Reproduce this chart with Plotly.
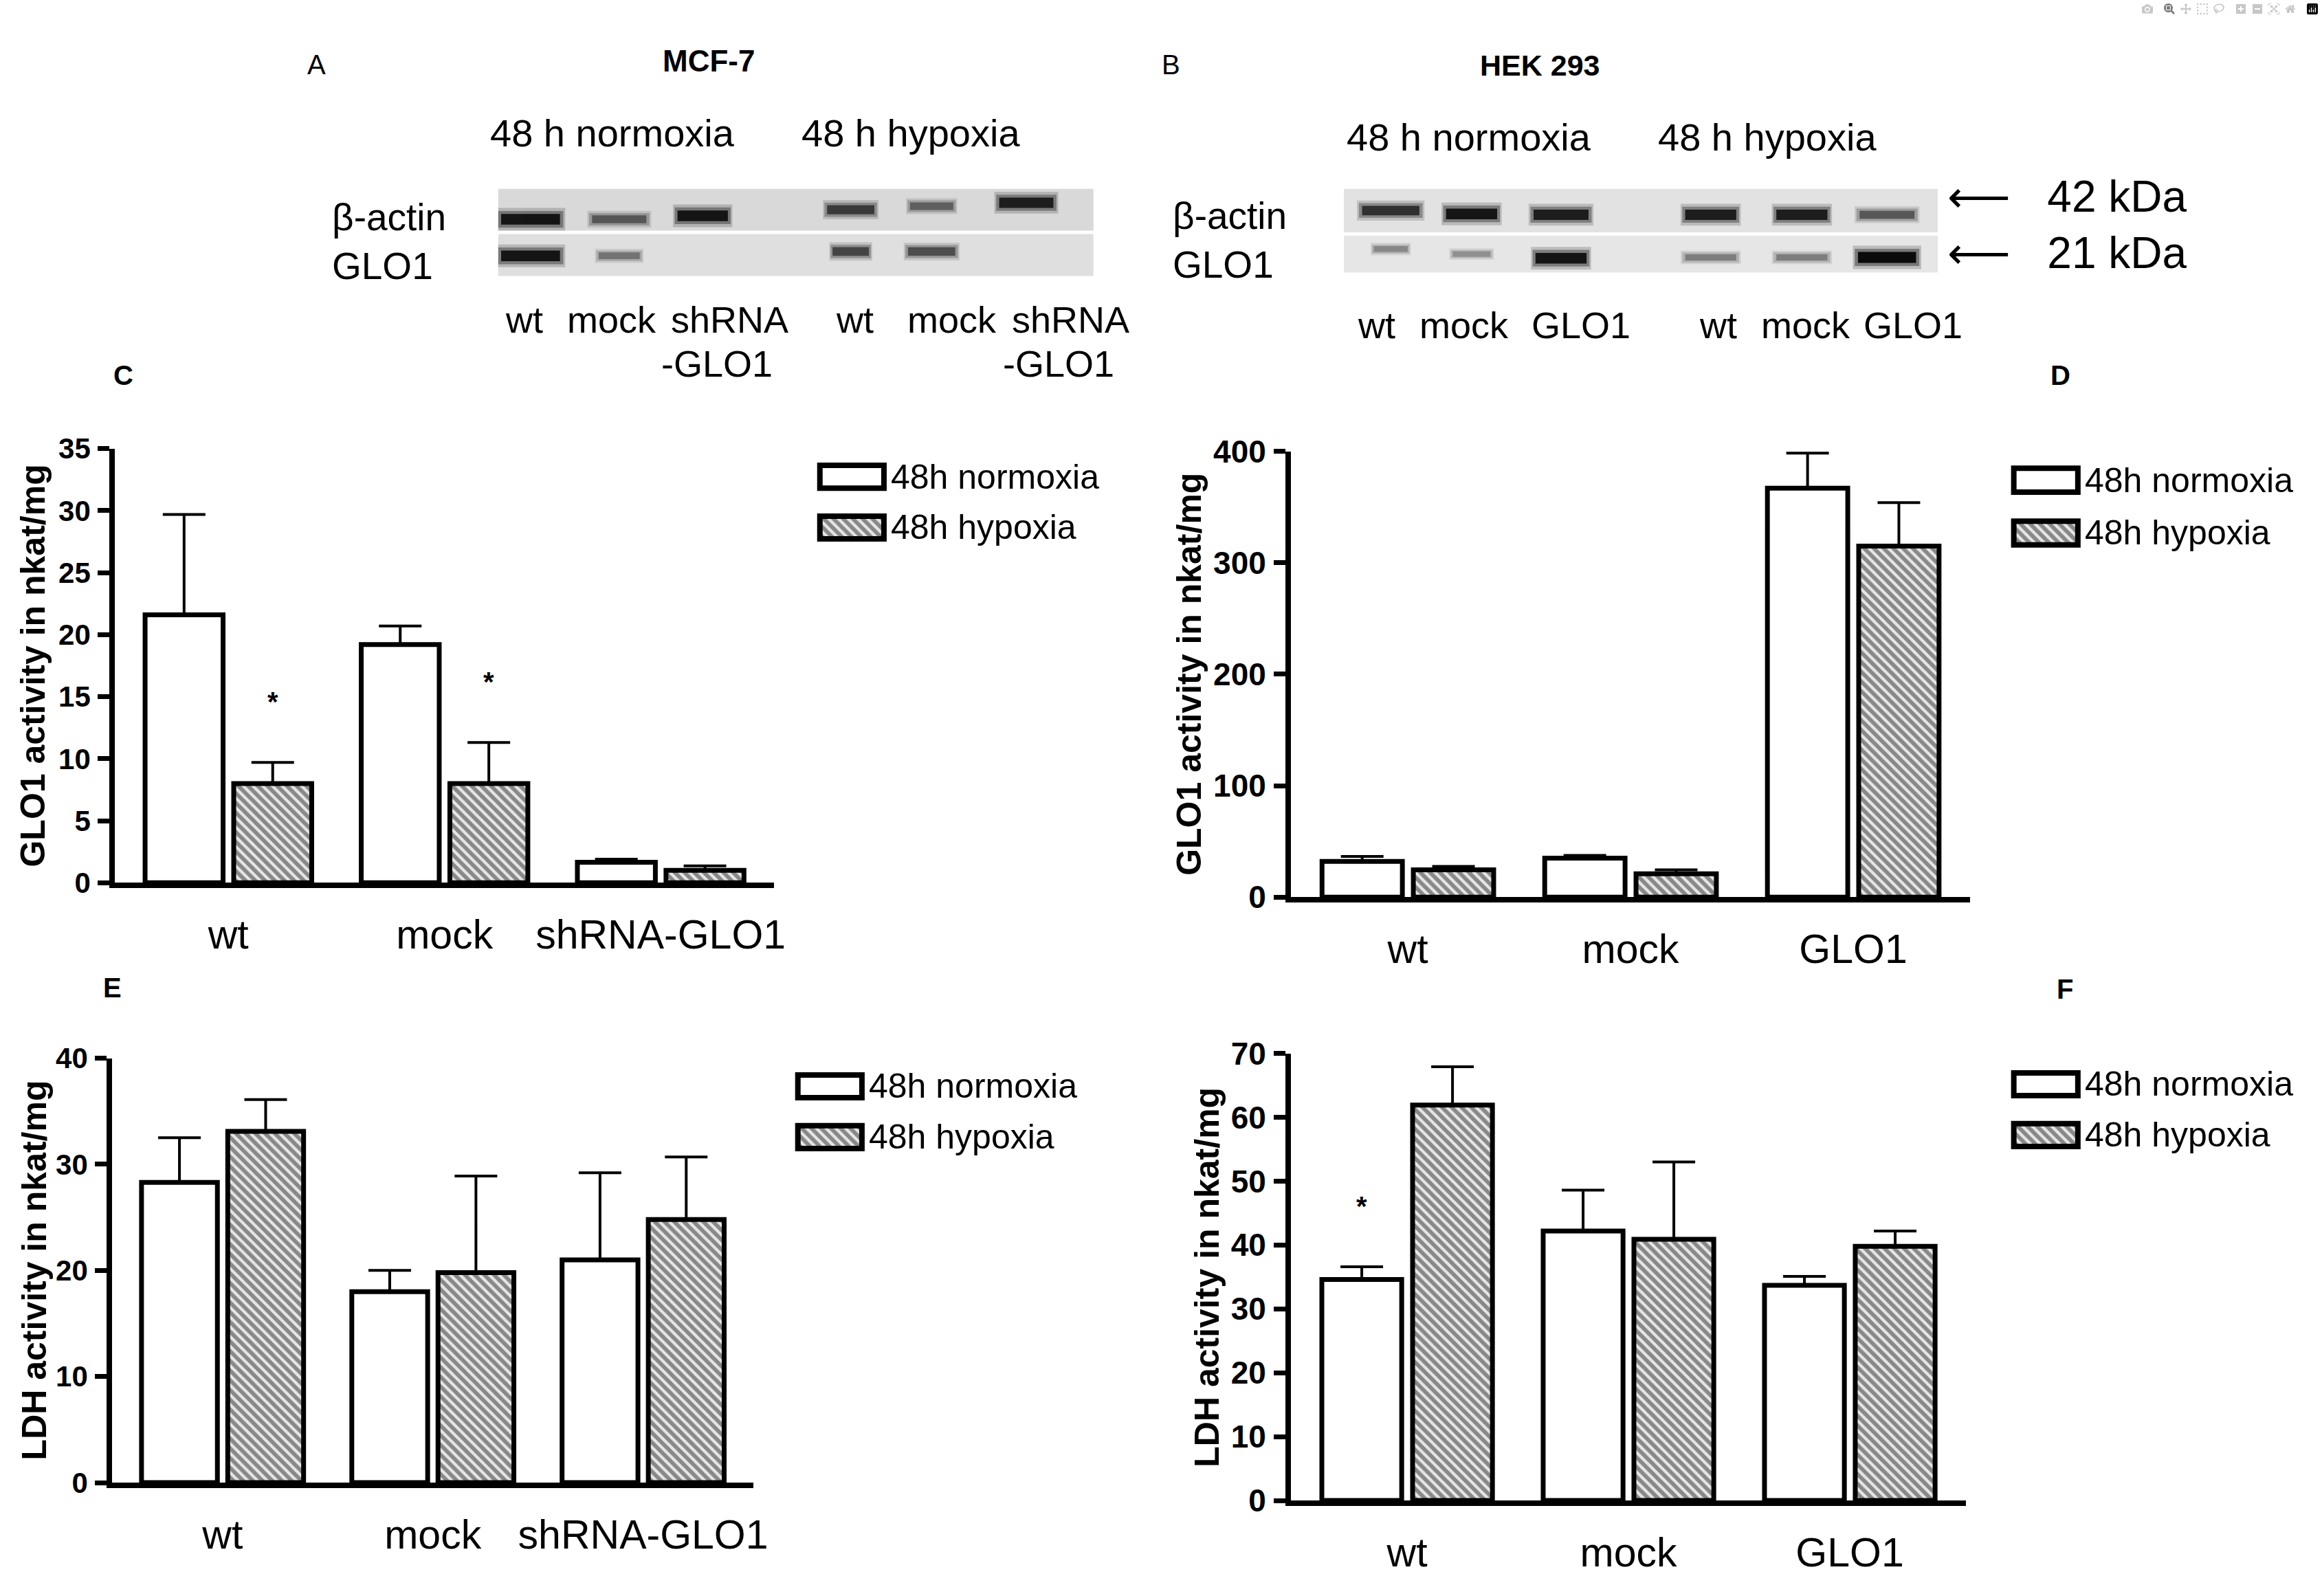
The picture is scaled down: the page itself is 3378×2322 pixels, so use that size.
import plotly.graph_objects as go

W, H = 3378, 2322
FONT = "Liberation Sans, Arial, sans-serif"

# ---------------- data ----------------
mcf7_groups = ["wt", "mock", "shRNA-GLO1"]
hek_groups = ["wt", "mock", "GLO1"]
series_names = ["48h normoxia", "48h hypoxia"]

# C: GLO1 activity MCF-7
glo1_mcf7_norm = [21.6, 19.2, 1.65]
glo1_mcf7_norm_err = [8.1, 1.5, 0.25]
glo1_mcf7_hyp = [8.0, 8.0, 1.0]
glo1_mcf7_hyp_err = [1.7, 3.3, 0.35]
glo1_mcf7_hyp_sig = ["*", "*", ""]
glo1_mcf7_ticks = [0, 5, 10, 15, 20, 25, 30, 35]

# D: GLO1 activity HEK 293
glo1_hek_norm = [32, 35, 367]
glo1_hek_norm_err = [4.5, 2.5, 31.5]
glo1_hek_hyp = [24.5, 21, 315]
glo1_hek_hyp_err = [3, 3.5, 39]
glo1_hek_ticks = [0, 100, 200, 300, 400]

# E: LDH activity MCF-7
ldh_mcf7_norm = [28.3, 18.0, 21.0]
ldh_mcf7_norm_err = [4.2, 2.0, 8.2]
ldh_mcf7_hyp = [33.1, 19.8, 24.8]
ldh_mcf7_hyp_err = [3.0, 9.1, 5.9]
ldh_mcf7_ticks = [0, 10, 20, 30, 40]

# F: LDH activity HEK 293
ldh_hek_norm = [34.6, 42.2, 33.7]
ldh_hek_norm_err = [2.0, 6.4, 1.4]
ldh_hek_hyp = [61.9, 40.9, 39.8]
ldh_hek_hyp_err = [6.0, 12.1, 2.4]
ldh_hek_norm_sig = ["*", "", ""]
ldh_hek_ticks = [0, 10, 20, 30, 40, 50, 60, 70]

# Western blots: lane positions (lane units), band intensities (0-1), band widths (lane units)
blot_rows = ["β-actin", "GLO1"]
size_markers = ["42 kDa", "21 kDa"]
blotA_lane_pos = [0, 1.03, 2.0, 3.72, 4.66, 5.76]
blotA_lane_labels = ["wt", "mock", "shRNA<br>-GLO1", "wt", "mock", "shRNA<br>-GLO1"]
blotA_actin_int = [0.95, 0.6, 0.95, 0.75, 0.55, 0.9]
blotA_actin_w = [0.76, 0.70, 0.65, 0.61, 0.56, 0.70]
blotA_actin_y = [0.65, 0.65, 0.69, 0.76, 0.80, 0.84]
blotA_glo1_int = [0.95, 0.45, 0.0, 0.7, 0.65, 0.0]
blotA_glo1_w = [0.76, 0.53, 0.0, 0.47, 0.61, 0.0]
blotA_glo1_y = [0.23, 0.23, 0.23, 0.28, 0.28, 0.28]

blotB_lane_pos = [0, 0.94, 1.98, 3.72, 4.78, 5.77]
blotB_lane_labels = ["wt", "mock", "GLO1", "wt", "mock", "GLO1"]
blotB_actin_int = [0.8, 0.95, 0.9, 0.9, 0.9, 0.6]
blotB_actin_w = [0.74, 0.66, 0.71, 0.66, 0.66, 0.71]
blotB_actin_y = [0.74, 0.70, 0.69, 0.69, 0.69, 0.69]
blotB_glo1_int = [0.35, 0.3, 0.95, 0.4, 0.4, 1.0]
blotB_glo1_w = [0.44, 0.49, 0.66, 0.66, 0.66, 0.75]
blotB_glo1_y = [0.28, 0.22, 0.17, 0.18, 0.18, 0.18]

# ---------------- helpers ----------------
# page-pixel -> paper fraction (small empirical correction for the screenshot mapping)
def X(px):
    return (px / 0.993) / W


def Y(py):
    return 1 - ((py - 23.7) / 0.98) / H


def dom_x(a, b):
    return [X(a), X(b)]


def dom_y(top, bottom):
    return [Y(bottom), Y(top)]


fig = go.Figure()
layout = dict(
    autosize=True, margin=dict(l=0, r=0, t=0, b=0, pad=0),
    paper_bgcolor="white", plot_bgcolor="white",
    font=dict(family=FONT, color="black"),
    barmode="group", bargap=0.18, bargroupgap=0.12,
    showlegend=False,
)

PAT = dict(shape="\\", fgcolor="#2a2a2a", bgcolor="#e6e6e6", size=10, solidity=0.58)
LINE_W = 7


def bar_panel(idx, cats, norm, norm_err, hyp, hyp_err, ticks, xdom, ydom, ytitle, title_x, tfs):
    ax = "" if idx == 1 else str(idx)
    xa, ya = "x" + ax, "y" + ax
    fig.add_trace(go.Bar(
        x=cats, y=norm, name=series_names[0], xaxis=xa, yaxis=ya,
        marker=dict(color="white", line=dict(color="black", width=LINE_W)),
        error_y=dict(type="data", array=norm_err, arrayminus=[0] * len(norm), symmetric=False,
                     color="black", thickness=4, width=31),
    ))
    fig.add_trace(go.Bar(
        x=cats, y=hyp, name=series_names[1], xaxis=xa, yaxis=ya,
        marker=dict(color="white", pattern=PAT, line=dict(color="black", width=LINE_W)),
        error_y=dict(type="data", array=hyp_err, arrayminus=[0] * len(hyp), symmetric=False,
                     color="black", thickness=4, width=31),
    ))
    layout["xaxis" + ax] = dict(
        domain=xdom, anchor=ya, type="category", range=[-0.525, 2.525],
        showline=True, linewidth=8, linecolor="black", ticks="", showgrid=False,
        zeroline=False, tickfont=dict(size=59, family=FONT), ticklabelstandoff=17,
    )
    layout["yaxis" + ax] = dict(
        domain=ydom, anchor=xa, range=[0, ticks[-1]], tickvals=ticks,
        showline=True, linewidth=8, linecolor="black", ticks="outside", ticklen=17,
        tickwidth=7, tickcolor="black", showgrid=False, zeroline=False,
        tickfont=dict(size=tfs, family=FONT, weight="bold"), ticklabelstandoff=2,
    )
    ymid = (ydom[0] + ydom[1]) / 2
    annotations.append(dict(
        text=ytitle, xref="paper", yref="paper", x=X(title_x), y=ymid, textangle=-90,
        showarrow=False, font=dict(size=50, weight="bold"), xanchor="center", yanchor="middle",
    ))
    return xa, ya


def legend_box(idx, cx, r1, r2):
    ax = str(idx)
    xa, ya = "x" + ax, "y" + ax
    fig.add_trace(go.Bar(
        x=[1, 1], y=[0, 1], orientation="h", xaxis=xa, yaxis=ya, width=0.45,
        marker=dict(color="white", line=dict(color="black", width=8),
                    pattern=dict(shape=["", "\\"], fgcolor=PAT["fgcolor"], bgcolor=PAT["bgcolor"],
                                 size=PAT["size"], solidity=PAT["solidity"])),
        hoverinfo="skip",
    ))
    half = 54
    step = (r2 - r1)
    layout["xaxis" + ax] = dict(domain=dom_x(cx - half, cx + half), anchor=ya,
                                range=[-0.08, 1.08], visible=False)
    layout["yaxis" + ax] = dict(domain=dom_y(r1 - step / 2, r2 + step / 2), anchor=xa,
                                range=[1.5, -0.5], visible=False)
    for name, ry in zip(series_names, [r1, r2]):
        annotations.append(dict(
            text=name, xref="paper", yref="paper", x=X(cx + 55), y=Y(ry), showarrow=False,
            xanchor="left", yanchor="middle", font=dict(size=50),
        ))


# soft band layers: (length factor, width factor, opacity)
BAND_LAYERS = [(1.06, 1.9, 0.18), (1.0, 1.4, 0.35), (0.9, 0.9, 0.9)]


def blot(idx, lane_pos, rows, xdom, ydom, xr, divider, bg):
    ax = str(idx)
    xa, ya = "x" + ax, "y" + ax
    for ints, widths, ys in rows:
        for p, it, w, yy in zip(lane_pos, ints, widths, ys):
            if it <= 0.02:
                continue
            g = int(200 * (1 - it))
            for lf, wf, op in BAND_LAYERS:
                fig.add_trace(go.Scatter(
                    x=[p - w * lf / 2, p + w * lf / 2], y=[yy, yy], mode="lines",
                    xaxis=xa, yaxis=ya, opacity=op,
                    line=dict(color=f"rgb({g},{g},{g})", width=(5 + 13 * it) * wf),
                    hoverinfo="skip",
                ))
    layout["xaxis" + ax] = dict(domain=xdom, anchor=ya, range=xr, visible=False)
    layout["yaxis" + ax] = dict(domain=ydom, anchor=xa, range=[0, 1], visible=False)
    shapes.append(dict(type="rect", xref=xa + " domain", yref=ya + " domain", x0=0, x1=1,
                       y0=divider + 0.02, y1=1, fillcolor=bg[0], line=dict(width=0), layer="below"))
    shapes.append(dict(type="rect", xref=xa + " domain", yref=ya + " domain", x0=0, x1=1,
                       y0=0, y1=divider - 0.02, fillcolor=bg[1], line=dict(width=0), layer="below"))


annotations = []
shapes = []

# ---- bar panels ----
xC, yC = bar_panel(1, mcf7_groups, glo1_mcf7_norm, glo1_mcf7_norm_err, glo1_mcf7_hyp,
                   glo1_mcf7_hyp_err, glo1_mcf7_ticks, dom_x(167, 1125), dom_y(652, 1285),
                   "GLO1 activity in nkat/mg", 48, 42)
xD, yD = bar_panel(2, hek_groups, glo1_hek_norm, glo1_hek_norm_err, glo1_hek_hyp,
                   glo1_hek_hyp_err, glo1_hek_ticks, dom_x(1876, 2863), dom_y(656, 1306),
                   "GLO1 activity in nkat/mg", 1728, 46)
xE, yE = bar_panel(3, mcf7_groups, ldh_mcf7_norm, ldh_mcf7_norm_err, ldh_mcf7_hyp,
                   ldh_mcf7_hyp_err, ldh_mcf7_ticks, dom_x(163, 1095), dom_y(1541, 2160),
                   "LDH activity in nkat/mg", 50, 42)
xF, yF = bar_panel(4, hek_groups, ldh_hek_norm, ldh_hek_norm_err, ldh_hek_hyp,
                   ldh_hek_hyp_err, ldh_hek_ticks, dom_x(1876, 2857), dom_y(1534, 2186),
                   "LDH activity in nkat/mg", 1754, 46)

# significance stars
slot_off = (1 - layout["bargap"]) / 4
for i, s in enumerate(glo1_mcf7_hyp_sig):
    if s:
        annotations.append(dict(text=s, xref=xC, yref=yC, x=i + slot_off,
                                y=glo1_mcf7_hyp[i] + glo1_mcf7_hyp_err[i], yshift=88,
                                showarrow=False, font=dict(size=40, weight="bold")))
for i, s in enumerate(ldh_hek_norm_sig):
    if s:
        annotations.append(dict(text=s, xref=xF, yref=yF, x=i - slot_off,
                                y=ldh_hek_norm[i] + ldh_hek_norm_err[i], yshift=88,
                                showarrow=False, font=dict(size=40, weight="bold")))

# ---- legends ----
legend_box(7, 1238, 693, 767)
legend_box(8, 2973, 698, 775)
legend_box(9, 1206, 1582, 1656)
legend_box(10, 2973, 1579, 1653)

# ---- blots ----
blot(5, blotA_lane_pos,
     [(blotA_actin_int, blotA_actin_w, blotA_actin_y), (blotA_glo1_int, blotA_glo1_w, blotA_glo1_y)],
     dom_x(724, 1589), dom_y(273, 400), [-0.376, 6.54], 0.5, ["#d9d9d9", "#dfdfdf"])
blot(6, blotB_lane_pos,
     [(blotB_actin_int, blotB_actin_w, blotB_actin_y), (blotB_glo1_int, blotB_glo1_w, blotB_glo1_y)],
     dom_x(1953, 2816), dom_y(273, 395), [-0.544, 6.36], 0.46, ["#e2e2e2", "#e6e6e6"])


def txt(t, px, py, size, bold=False, xanchor="center", yanchor="middle", family=None):
    f = dict(size=size)
    if bold:
        f["weight"] = "bold"
    if family:
        f["family"] = family
    annotations.append(dict(text=t, xref="paper", yref="paper", x=X(px), y=Y(py),
                            showarrow=False, xanchor=xanchor, yanchor=yanchor, font=f))


# panel letters
txt("A", 460, 92, 40)
txt("B", 1702, 92, 40)
txt("C", 179, 545, 40, bold=True)
txt("D", 2994, 545, 40, bold=True)
txt("E", 163, 1438, 40, bold=True)
txt("F", 3001, 1440, 40, bold=True)

# blot headings
txt("MCF-7", 1030, 86, 44, bold=True)
txt("HEK 293", 2238, 93, 43, bold=True)
txt("48 h normoxia", 890, 192, 56)
txt("48 h hypoxia", 1324, 192, 56)
txt("48 h normoxia", 2135, 198, 56)
txt("48 h hypoxia", 2568, 198, 56)

# row labels
txt(blot_rows[0], 480, 314, 55, xanchor="left")
txt(blot_rows[1], 480, 386, 55, xanchor="left")
txt(blot_rows[0], 1702, 312, 55, xanchor="left")
txt(blot_rows[1], 1702, 384, 55, xanchor="left")

# lane labels
laneA_px = [762, 889, 1060, 1242, 1383, 1556]
for lab, px in zip(blotA_lane_labels, laneA_px):
    if "<br>" in lab:
        top, bottom = lab.split("<br>")
        txt(top, px, 464, 54)
        txt(bottom, px - 18, 528, 54)
    else:
        txt(lab, px, 464, 54)
laneB_px = [2000, 2128, 2298, 2497, 2624, 2780]
for lab, px in zip(blotB_lane_labels, laneB_px):
    txt(lab, px, 472, 54)

# size markers (arrow + label in one text so they never collide)
for lab, py in zip(size_markers, [284, 367]):
    txt("⟵\u00a0\u00a0\u00a0" + lab, 2828, py, 64, xanchor="left")

layout["annotations"] = annotations
layout["shapes"] = shapes
fig.update_layout(**layout)

fig.write_html(
    "out.html",
    default_width="100vw",
    default_height="100vh",
    post_script=(
        "document.documentElement.style.margin='0';"
        "document.body.style.margin='0';document.body.style.padding='0';"
        "document.body.style.overflow='hidden';"
        "var gd=document.getElementById('{plot_id}');"
        "gd.style.width='100vw';gd.style.height='100vh';"
        "Plotly.Plots.resize(gd);"
    ),
)
